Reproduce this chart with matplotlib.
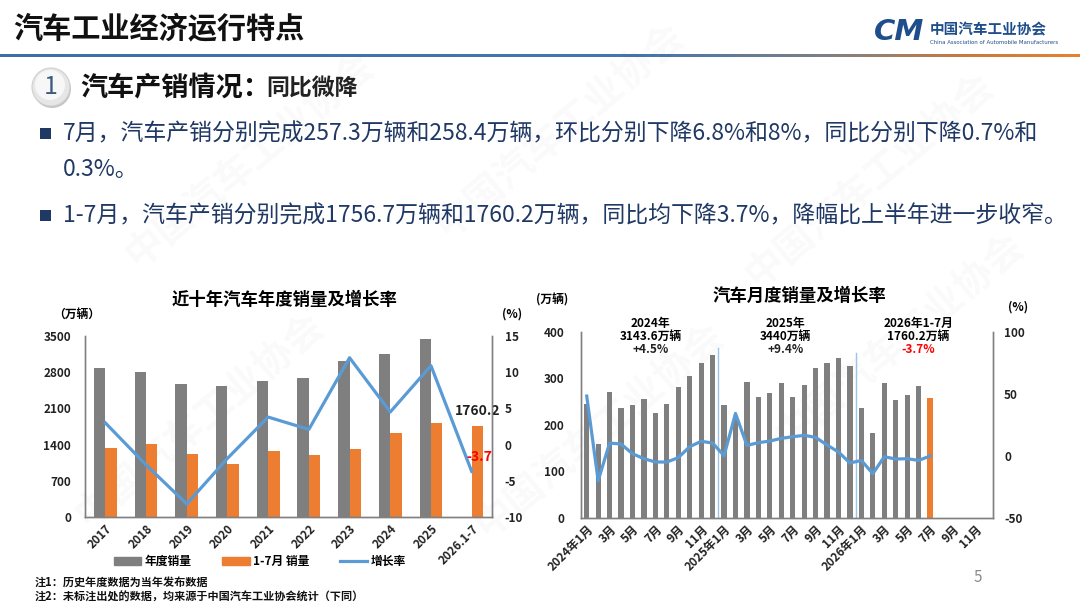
import numpy as np
import matplotlib
matplotlib.use("Agg")
import matplotlib.pyplot as plt
from matplotlib.patches import Rectangle, Circle, Patch
from matplotlib.lines import Line2D
from matplotlib.colors import LinearSegmentedColormap

plt.rcParams['font.family'] = ['Noto Sans CJK SC', 'DejaVu Sans']
plt.rcParams['axes.unicode_minus'] = False

# --- data: annual chart ---
years = ['2017', '2018', '2019', '2020', '2021', '2022', '2023', '2024', '2025', '2026.1-7']
annual_sales = [2887.9, 2808.1, 2576.9, 2531.1, 2627.5, 2686.4, 3009.4, 3143.6, 3440.0, np.nan]
jan_jul_sales = [1329, 1406, 1225, 1025, 1283, 1199, 1315, 1624, 1824, 1760.2]
annual_growth = [3.0, -2.8, -8.2, -1.9, 3.8, 2.1, 12.0, 4.5, 10.9, -3.7]

# --- data: monthly chart ---
sales_2024 = [243.7, 158.4, 269.4, 235.9, 241.7, 255.2, 226.2, 245.3, 280.9, 305.3, 331.7, 349.6]
sales_2025 = [242.3, 212.9, 291.5, 259.0, 268.6, 290.4, 259.3, 285.7, 322.6, 332.2, 342.9, 327.2]
sales_2026 = [235.8, 181.4, 289.6, 253.0, 263.0, 282.4, 258.4]
growth_2024 = [48.1, -20.2, 10.2, 9.4, 1.6, -2.4, -5.1, -5.1, -1.6, 7.3, 11.6, 10.2]
growth_2025 = [0.0, 34.1, 8.3, 10.5, 11.8, 14.0, 15.3, 16.4, 14.8, 8.6, 3.0, -5.9]
growth_2026 = [-3.8, -14.5, -0.8, -2.7, -2.4, -3.8, -0.3]
month_ticks = ['2024年1月', '3月', '5月', '7月', '9月', '11月',
               '2025年1月', '3月', '5月', '7月', '9月', '11月',
               '2026年1月', '3月', '5月', '7月', '9月', '11月']
year_notes = [('2024年', '3143.6万辆', '+4.5%'),
              ('2025年', '3440万辆', '+9.4%'),
              ('2026年1-7月', '1760.2万辆', '-3.7%')]

GRAY = '#7F7F7F'
ORANGE = '#ED7D31'
BLUE = '#5B9BD5'
NAVY = '#1F3864'
AXC = '#808080'

W, H = 1080, 602
fig = plt.figure(figsize=(W / 100, H / 100), dpi=100)

# background layer in pixel coords
bg = fig.add_axes([0, 0, 1, 1])
bg.set_xlim(0, W)
bg.set_ylim(H, 0)
bg.axis('off')
bg.set_zorder(-1)

# faint watermarks
for wx, wy in [(250, 160), (560, 130), (870, 180), (200, 420), (600, 430), (900, 340)]:
    bg.text(wx, wy, '中国汽车工业协会', fontsize=28, color='#000000', alpha=0.025,
            rotation=40, ha='center', va='center', weight='bold')

# header
bg.text(13, 28, '汽车工业经济运行特点', fontsize=21, weight='bold', color='#111111', va='center')
cmap = LinearSegmentedColormap.from_list('hdr', [(0, '#3C6FA8'), (0.6, '#4677AC'), (0.77, '#808082'),
                                                 (0.9, '#C97A3C'), (1, '#E8812F')])
bg.imshow(np.linspace(0, 1, 512).reshape(1, -1), cmap=cmap, aspect='auto',
          extent=(0, W, 57.5, 54.5), zorder=1)
bg.set_xlim(0, W)
bg.set_ylim(H, 0)
bg.text(899, 32, 'CM', fontsize=21, weight='heavy', style='italic', color='#1F4E8C',
        ha='center', va='center', family='DejaVu Sans')
bg.text(930, 29, '中国汽车工业协会', fontsize=10.5, weight='bold', color='#1F4E8C', va='center')
bg.text(930, 43, 'China Association of Automobile Manufacturers', fontsize=3.9,
        color='#1F4E8C', va='center', family='DejaVu Sans')

# section title
bg.add_patch(Circle((52, 89), 19, facecolor='#C4C4C4', edgecolor='none', zorder=2))
bg.add_patch(Circle((51, 87), 19, facecolor='#E6E6E6', edgecolor='#D0D0D0', lw=0.8, zorder=3))
bg.add_patch(Circle((50, 85), 15, facecolor='#F7F7F7', edgecolor='none', zorder=4))
bg.text(51, 87, '1', fontsize=18, color='#3D5A80', ha='center', va='center', zorder=5)
bg.text(80, 87, '汽车产销情况：', fontsize=19.5, weight='bold', color='#111111', va='center')
bg.text(266, 88, '同比微降', fontsize=16.5, weight='bold', color='#222222', va='center')

# bullets
bullets = [(134, '7月，汽车产销分别完成257.3万辆和258.4万辆，环比分别下降6.8%和8%，同比分别下降0.7%和', True),
           (169, '0.3%。', False),
           (216, '1-7月，汽车产销分别完成1756.7万辆和1760.2万辆，同比均下降3.7%，降幅比上半年进一步收窄。', True)]
for by, txt, square in bullets:
    if square:
        bg.add_patch(Rectangle((40, by - 6), 11, 11, facecolor=NAVY, edgecolor='none'))
    bg.text(63, by, txt, fontsize=16.5, color=NAVY, va='center')

# notes and page number
bg.text(35, 582, '注1：历史年度数据为当年发布数据', fontsize=8, weight='bold', color='#111111', va='center')
bg.text(35, 597, '注2：未标注出处的数据，均来源于中国汽车工业协会统计（下同）', fontsize=8,
        weight='bold', color='#111111', va='center')
bg.text(978, 578, '5', fontsize=11, color='#8C8C8C', ha='center', va='center')


def style_axes(a):
    a.set_facecolor('none')
    a.spines['top'].set_visible(False)
    for s in ['left', 'right', 'bottom']:
        a.spines[s].set_color(AXC)
        a.spines[s].set_linewidth(1)
    a.tick_params(length=0, labelsize=8.5, colors='#222222')
    for lab in a.get_yticklabels() + a.get_xticklabels():
        lab.set_fontweight('bold')


# --- left chart ---
ax1 = fig.add_axes([85 / W, 1 - 517 / H, 407 / W, 181 / H])
x = np.arange(len(years))
bw = 0.28
ax1.bar(x - bw / 2, annual_sales, bw, color=GRAY, label='年度销量')
ax1.bar(x + bw / 2, jan_jul_sales, bw, color=ORANGE, label='1-7月 销量')
ax1.set_xlim(-0.5, len(years) - 0.5)
ax1.set_ylim(0, 3500)
ax1.set_yticks(np.arange(0, 3501, 700))
ax1.set_xticks(x)
ax1.set_xticklabels(years, rotation=45, ha='right', rotation_mode='anchor')
ax1r = ax1.twinx()
ax1r.plot(x, annual_growth, color=BLUE, lw=2.3, label='增长率')
ax1r.set_ylim(-10, 15)
ax1r.set_yticks(np.arange(-10, 16, 5))
style_axes(ax1)
style_axes(ax1r)
ax1.tick_params(axis='x', pad=4)
ax1.tick_params(axis='y', pad=10)
ax1r.tick_params(axis='y', pad=9)
ax1.text(x[-1] + bw / 2, jan_jul_sales[-1] + 150, f'{jan_jul_sales[-1]:.1f}', ha='center', va='bottom',
         fontsize=10, weight='bold', color='#222222')
ax1r.text(x[-1] + 0.2, annual_growth[-1] + 1.0, f'{annual_growth[-1]:.1f}', ha='center', va='bottom',
          fontsize=10, weight='bold', color='#FF0000')
ax1.set_title('近十年汽车年度销量及增长率', fontsize=12.5, weight='bold', pad=22, x=0.49)
ax1.text(-0.02, 1.12, '（万辆）', transform=ax1.transAxes, fontsize=8.5, weight='bold', ha='center', va='center')
ax1r.text(1.05, 1.12, '(%)', transform=ax1r.transAxes, fontsize=8.5, weight='bold', ha='center', va='center')
ax1.legend(handles=[Patch(color=GRAY, label='年度销量'), Patch(color=ORANGE, label='1-7月 销量'),
                    Line2D([], [], color=BLUE, lw=2.3, label='增长率')],
           loc='center', bbox_to_anchor=(0.43, -0.245), ncol=3, frameon=False,
           prop={'size': 8.5, 'weight': 'bold'}, handlelength=2.3, handleheight=0.7,
           columnspacing=2.6, handletextpad=0.3)

# --- right chart ---
ax2 = fig.add_axes([581 / W, 1 - 517.7 / H, 412 / W, 186 / H])
sales = sales_2024 + sales_2025 + sales_2026
growth = growth_2024 + growth_2025 + growth_2026
mx = np.arange(len(sales))
colors = [GRAY] * (len(sales) - 1) + [ORANGE]
ax2.bar(mx, sales, 0.45, color=colors)
ax2.set_xlim(-0.5, 35.5)
ax2.set_ylim(0, 400)
ax2.set_yticks(np.arange(0, 401, 100))
ax2.set_xticks(np.arange(0, 36, 2))
ax2.set_xticklabels(month_ticks, rotation=45, ha='right', rotation_mode='anchor')
ax2.axvline(11.5, ymin=0, ymax=365 / 400, color='#9DC3E6', lw=1)
ax2.axvline(23.5, ymin=0, ymax=355 / 400, color='#9DC3E6', lw=1)
ax2r = ax2.twinx()
ax2r.plot(mx, growth, color=BLUE, lw=2.3)
ax2r.set_ylim(-50, 100)
ax2r.set_yticks(np.arange(-50, 101, 50))
style_axes(ax2)
style_axes(ax2r)
ax2.tick_params(axis='x', pad=4)
ax2.tick_params(axis='y', pad=12)
ax2r.tick_params(axis='y', pad=8)
for cx, (a, b, c) in zip([5.6, 17.4, 29.0], year_notes):
    ax2.text(cx, 418, a, ha='center', va='center', fontsize=8.5, weight='bold', clip_on=False)
    ax2.text(cx, 389, b, ha='center', va='center', fontsize=8.5, weight='bold', clip_on=False)
    ax2.text(cx, 361, c, ha='center', va='center', fontsize=8.5, weight='bold',
             color='#FF0000' if c.startswith('-') else '#222222', clip_on=False)
ax2.set_title('汽车月度销量及增长率', fontsize=12.5, weight='bold', pad=22, x=0.53)
ax2.text(-0.07, 1.17, '(万辆)', transform=ax2.transAxes, fontsize=8.5, weight='bold', ha='center', va='center')
ax2r.text(1.06, 1.13, '(%)', transform=ax2r.transAxes, fontsize=8.5, weight='bold', ha='center', va='center')

fig.savefig('out.png', dpi=100)
